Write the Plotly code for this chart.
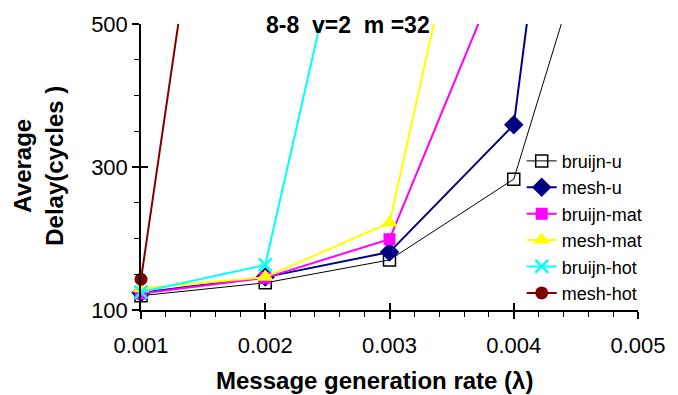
import plotly.graph_objects as go

rates = [0.001, 0.002, 0.003, 0.004, 0.005]

bruijn_u = [120, 138, 170, 283, 850]
mesh_u = [124, 146, 181, 359, 1700]
bruijn_mat = [123, 145, 199, 620]
mesh_mat = [130, 146, 222, 1000]
bruijn_hot = [125, 163, 926]
mesh_hot = [143, 1333]

series = [
    ("bruijn-u", bruijn_u, "black", 1, "square-open", 12, 1.5),
    ("mesh-u", mesh_u, "#000080", 2, "diamond", 15, 0),
    ("bruijn-mat", bruijn_mat, "#FF00FF", 2, "square", 12, 0),
    ("mesh-mat", mesh_mat, "#FFFF00", 2, "triangle-up", 15, 0),
    ("bruijn-hot", bruijn_hot, "#00FFFF", 2, "x-thin-open", 13, 2.5),
    ("mesh-hot", mesh_hot, "#800000", 2, "circle", 13, 0),
]

fig = go.Figure()
for name, vals, color, lw, sym, size, mlw in series:
    fig.add_trace(go.Scatter(
        x=rates[:len(vals)], y=vals, name=name, mode="lines+markers",
        line=dict(color=color, width=lw),
        marker=dict(symbol=sym, size=size, color=color,
                    line=dict(color=color, width=mlw)),
        cliponaxis=False,
    ))

# helper trace on overlay axes, so the inner half of the crossing major ticks is drawn
fig.add_trace(go.Scatter(x=[rates[0]], y=[bruijn_u[0]], xaxis="x2", yaxis="y2",
                         mode="markers", marker=dict(opacity=0),
                         showlegend=False, hoverinfo="skip"))

FONT = "Liberation Sans, Arial, sans-serif"

fig.update_layout(
    width=678, height=395,
    margin=dict(l=141, r=32, t=24, b=85),
    paper_bgcolor="white", plot_bgcolor="white",
    font=dict(family=FONT, size=22, color="black"),
    showlegend=True,
    legend=dict(x=0.766, y=0.585, xanchor="left", yanchor="top",
                bgcolor="rgba(0,0,0,0)", font=dict(size=18, family=FONT),
                itemwidth=30),
    annotations=[
        dict(text="Message generation rate (λ)", xref="paper", yref="paper",
             x=0.469, y=-0.245, xanchor="center", yanchor="middle",
             showarrow=False, font=dict(size=24, family=FONT, color="black", weight="bold")),
        dict(text="Average<br>Delay(cycles )", xref="paper", yref="paper",
             x=-0.206, y=0.503, xanchor="center", yanchor="middle",
             textangle=-90, showarrow=False,
             font=dict(size=24, family=FONT, color="black", weight="bold")),
        dict(text="8-8\u00a0\u00a0v=2\u00a0\u00a0m\u00a0=32", xref="paper", yref="paper",
             x=0.417, y=0.9965, xanchor="center", yanchor="middle",
             showarrow=False, font=dict(size=23, family=FONT, color="black", weight="bold")),
    ],
    xaxis2=dict(overlaying="x", anchor="y", side="bottom",
                range=[0.001, 0.005], tick0=0.001, dtick=0.001,
                showticklabels=False, showgrid=False, zeroline=False,
                showline=False, ticks="inside", ticklen=7,
                tickcolor="#000000", tickwidth=1.5),
    yaxis2=dict(overlaying="y", anchor="x", side="left",
                range=[100, 500], tick0=100, dtick=200,
                showticklabels=False, showgrid=False, zeroline=False,
                showline=False, ticks="inside", ticklen=7,
                tickcolor="#000000", tickwidth=1.5),
)
fig.update_xaxes(selector=dict(anchor="y", overlaying=None))
fig.layout.xaxis.update(range=[0.001, 0.005], tick0=0.001, dtick=0.001,
                        tickformat=".3f", showgrid=False, zeroline=False,
                        showline=True, linecolor="#000000", linewidth=1.5,
                        ticks="outside", ticklen=7, tickcolor="#000000", tickwidth=1.5,
                        ticklabelstandoff=8,
                        minor_ticks="outside", minor_ticklen=5, minor_dtick=0.0002,
                        minor_tickcolor="#000000", minor_tickwidth=1)
fig.layout.yaxis.update(range=[100, 500], tick0=100, dtick=200,
                        showgrid=False, zeroline=False,
                        showline=True, linecolor="#000000", linewidth=1.5,
                        ticks="outside", ticklen=7, tickcolor="#000000", tickwidth=1.5,
                        minor_ticks="outside", minor_ticklen=5, minor_dtick=50,
                        minor_tickcolor="#000000", minor_tickwidth=1)

fig.write_html("out.html")
